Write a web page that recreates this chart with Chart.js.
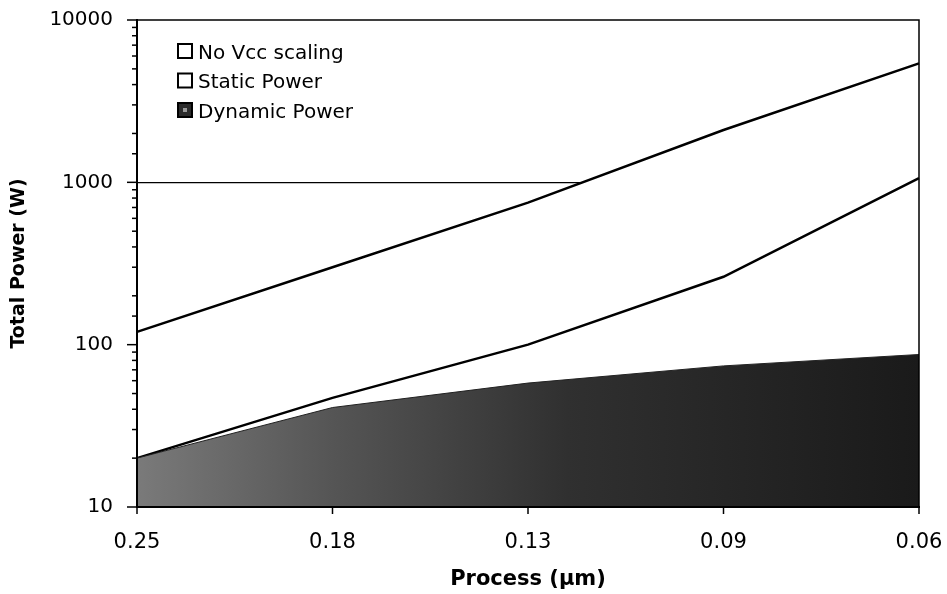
<!DOCTYPE html>
<html><head><meta charset="utf-8">
<script src="https://cdn.jsdelivr.net/npm/chart.js@4.4.1/dist/chart.umd.min.js"></script>
<style>html,body{margin:0;padding:0;background:#fff}#wrap{width:947px;height:594px}</style>
</head><body><div id="wrap"><canvas id="c" width="947" height="594"></canvas></div>
<script>
// ---- data ----
const processNodes = ['0.25', '0.18', '0.13', '0.09', '0.06'];
const noVccScaling = [120, 300, 750, 2100, 5400];
const staticPower = [20, 47, 100, 262, 1060];
const dynamicPower = [20, 41, 58, 74, 87];
const yTickValues = [10, 100, 1000, 10000];
const seriesNames = ['No Vcc scaling', 'Static Power', 'Dynamic Power'];
const xTitle = 'Process (\u00b5m)';
const yTitle = 'Total Power (W)';

const FONT = "'DejaVu Sans', 'Liberation Sans', Arial, sans-serif";
const isDecade = v => Math.abs(Math.log10(v) - Math.round(Math.log10(v))) < 1e-9;

function dynFill(ctx) {
  const chart = ctx.chart; const a = chart.chartArea;
  if (!a) return '#444';
  const g = chart.ctx.createLinearGradient(a.left, 0, a.right, 0);
  g.addColorStop(0, '#7a7a7a');
  g.addColorStop(0.25, '#555');
  g.addColorStop(0.55, '#303030');
  g.addColorStop(1, '#1a1a1a');
  return g;
}

const framePlugin = {
  id: 'frame',
  afterDraw(chart) {
    const c = chart.ctx, a = chart.chartArea;
    const ys = chart.scales.y, xs = chart.scales.x;
    c.save();
    c.strokeStyle = '#000';
    c.lineWidth = 1.5;
    c.beginPath();
    c.moveTo(a.left, a.top); c.lineTo(a.right, a.top); c.lineTo(a.right, a.bottom);
    c.stroke();
    c.lineWidth = 2;
    c.beginPath();
    c.moveTo(a.left, a.top - 1); c.lineTo(a.left, a.bottom); c.lineTo(a.right + 1, a.bottom);
    c.stroke();
    c.lineWidth = 1.5;
    ys.ticks.forEach(t => {
      const p = ys.getPixelForValue(t.value);
      const len = isDecade(t.value) ? 10 : 5;
      c.beginPath(); c.moveTo(a.left - len, p); c.lineTo(a.left, p); c.stroke();
    });
    xs.ticks.forEach((t, i) => {
      const p = xs.getPixelForTick(i);
      c.beginPath(); c.moveTo(p, a.bottom); c.lineTo(p, a.bottom + 7); c.stroke();
    });
    const fills = ['#fff', '#fff', '#2a2a2a'];
    c.font = '20px ' + FONT;
    c.textBaseline = 'alphabetic';
    seriesNames.forEach((name, i) => {
      const by = 44 + i * 29.5;
      c.fillStyle = fills[i];
      c.fillRect(178, by, 14, 14);
      if (i === 2) { c.fillStyle = '#999'; c.fillRect(183, by + 5, 4, 4); }
      c.lineWidth = 2; c.strokeStyle = '#000';
      c.strokeRect(178, by, 14, 14);
      c.fillStyle = '#000';
      c.fillText(name, 198, by + 14.5);
    });
    c.restore();
  }
};

new Chart(document.getElementById('c'), {
  type: 'line',
  data: {
    labels: processNodes,
    datasets: [
      { label: seriesNames[0], data: noVccScaling, borderColor: '#000', borderWidth: 2.5,
        backgroundColor: '#fff', fill: 'start', order: 3, pointRadius: 0, tension: 0 },
      { label: seriesNames[1], data: staticPower, borderColor: '#000', borderWidth: 2.5,
        backgroundColor: '#fff', fill: 'start', order: 2, pointRadius: 0, tension: 0 },
      { label: seriesNames[2], data: dynamicPower, borderColor: '#222', borderWidth: 1,
        backgroundColor: dynFill, fill: 'start', order: 1, pointRadius: 0, tension: 0 }
    ]
  },
  options: {
    responsive: false,
    animation: false,
    devicePixelRatio: 1,
    layout: { padding: { top: 20, right: 28, bottom: 0, left: 0 } },
    plugins: { legend: { display: false }, tooltip: { enabled: false } },
    scales: {
      x: {
        type: 'category', offset: false,
        afterFit(s) { s.height = 87; s.paddingLeft = 0; s.paddingRight = 0; },
        ticks: { padding: 23, color: '#000', font: { family: FONT, size: 21 }, maxRotation: 0, autoSkip: false },
        grid: { drawTicks: false, color: 'rgba(0,0,0,0)' },
        border: { color: '#000', width: 2 },
        title: { display: true, text: xTitle, color: '#000', font: { family: FONT, size: 21, weight: 'bold' }, padding: { top: 0, bottom: 2 } }
      },
      y: {
        type: 'logarithmic', min: 10, max: 10000,
        afterFit(s) { s.width = 137; s.paddingTop = 0; s.paddingBottom = 0; },
        ticks: { padding: 24, autoSkip: false, color: '#000', font: { family: FONT, size: 20 },
          callback: v => (yTickValues.some(t => Math.abs(t - v) < 1e-6) ? String(v) : '') },
        grid: { drawTicks: false, lineWidth: 1.2,
          color: ctx => (ctx.tick && Math.abs(ctx.tick.value - 1000) < 1e-6 ? '#000' : 'rgba(0,0,0,0)') },
        border: { color: '#000', width: 2 },
        title: { display: true, text: yTitle, color: '#000', font: { family: FONT, size: 19, weight: 'bold' }, padding: { top: 8, bottom: 0 } }
      }
    }
  },
  plugins: [framePlugin]
});
</script>
</body></html>
